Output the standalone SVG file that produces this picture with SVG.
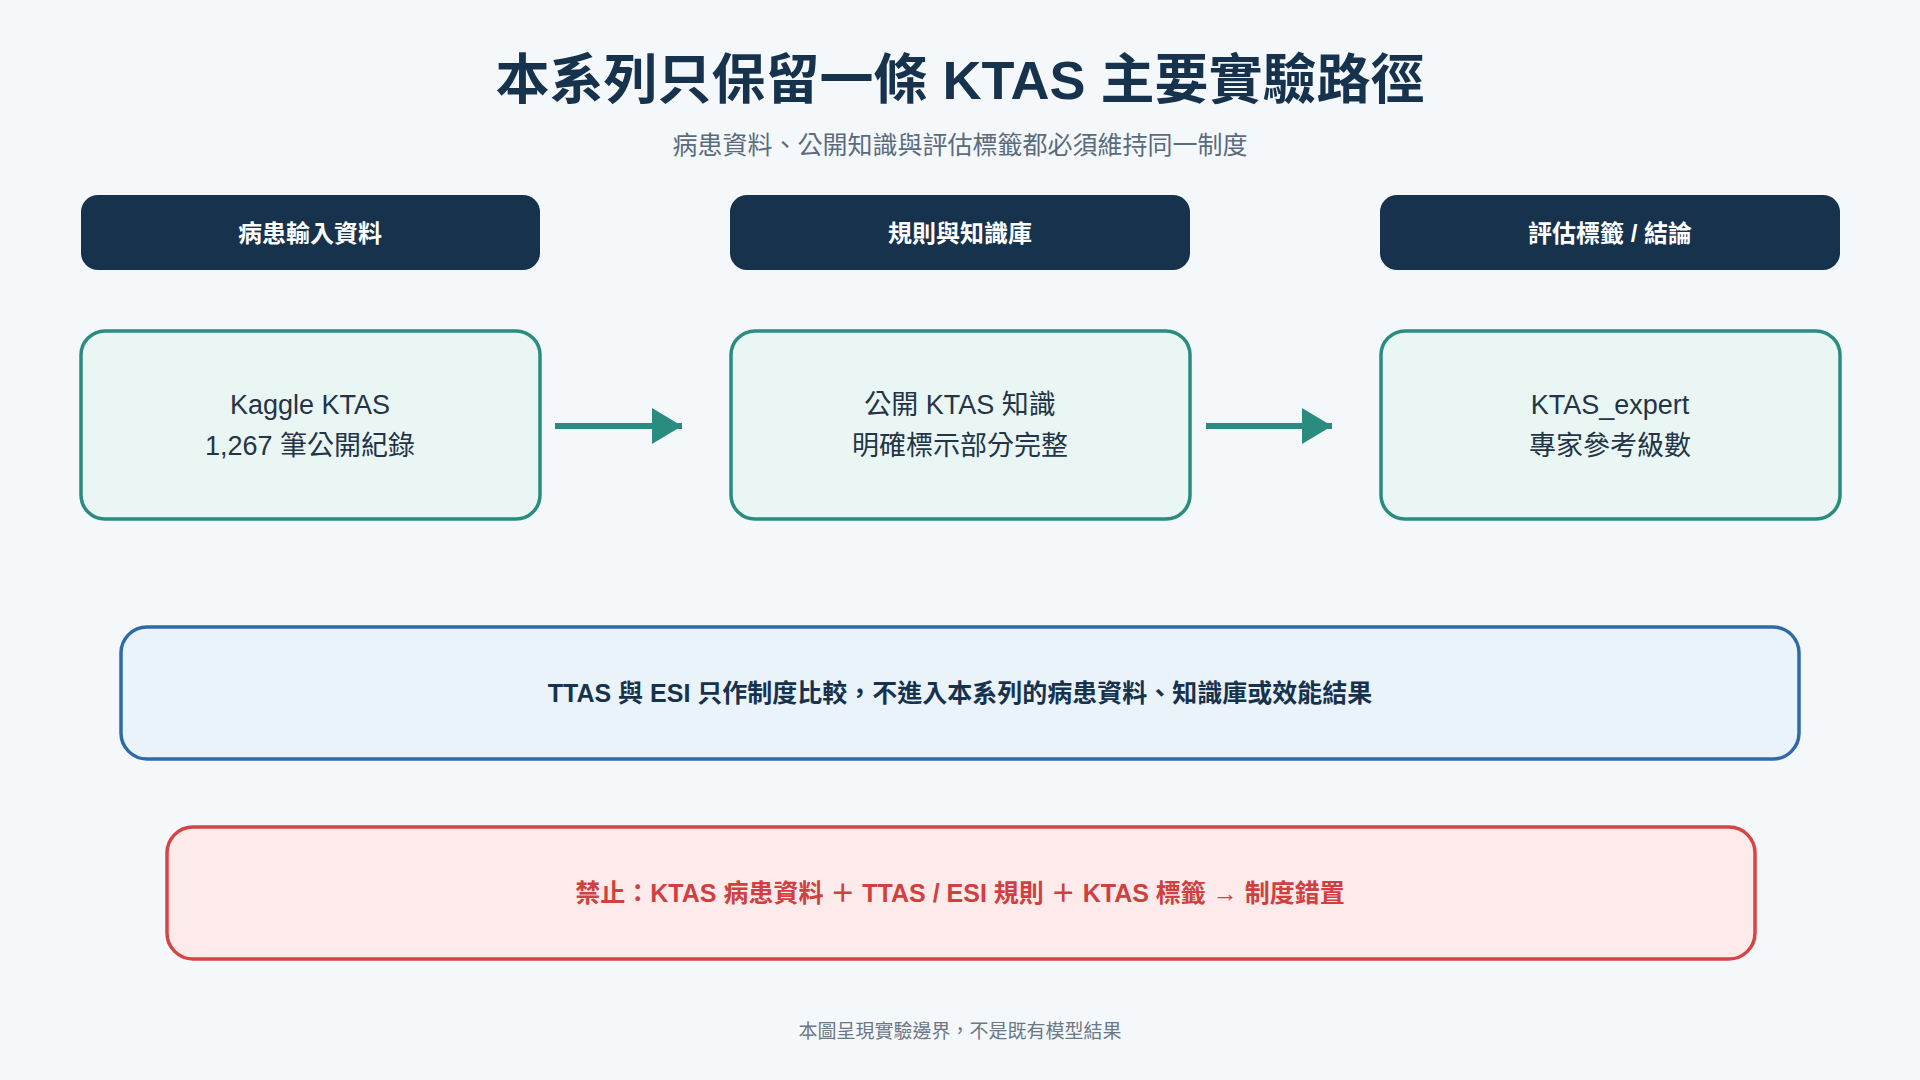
<svg xmlns="http://www.w3.org/2000/svg" width="1920" height="1080" viewBox="0 0 1920 1080">
<style>
text{font-family:"Liberation Sans","Noto Sans CJK TC",sans-serif;text-anchor:middle;dominant-baseline:central}
.hd rect{fill:#17324d}
.hd text{fill:#fff;font-size:24px;font-weight:bold}
.nd rect{fill:#eaf6f3;stroke:#2a8c7f;stroke-width:3.5}
.nd text{fill:#243447;font-size:27px}
.cn line{stroke:#2a8c7f;stroke-width:6}
</style>
<defs><marker id="ah" markerWidth="6" markerHeight="6" refX="5" refY="3" orient="auto" markerUnits="strokeWidth"><path d="M0,0L5,3L0,6Z" fill="#2a8c7f"/></marker></defs>
<rect width="1920" height="1080" fill="#f5f8fb"/>
<text x="960" y="80" font-size="54" font-weight="bold" fill="#17324d">本系列只保留一條 KTAS 主要實驗路徑</text>
<text x="960" y="145" font-size="25" fill="#5a6b7d">病患資料、公開知識與評估標籤都必須維持同一制度</text>
<g id="h1" class="hd"><rect x="81" y="195" width="459" height="75" rx="17"/><text x="310" y="233">病患輸入資料</text></g>
<g id="h2" class="hd"><rect x="730" y="195" width="460" height="75" rx="17"/><text x="960" y="233">規則與知識庫</text></g>
<g id="h3" class="hd"><rect x="1380" y="195" width="460" height="75" rx="17"/><text x="1610" y="233">評估標籤 / 結論</text></g>
<g id="n1" class="nd"><rect x="81" y="331" width="459" height="188" rx="24"/><text x="310" y="405">Kaggle KTAS</text><text x="310" y="446">1,267 筆公開紀錄</text></g>
<g id="n2" class="nd"><rect x="731" y="331" width="459" height="188" rx="24"/><text x="960" y="405">公開 KTAS 知識</text><text x="960" y="446">明確標示部分完整</text></g>
<g id="n3" class="nd"><rect x="1381" y="331" width="459" height="188" rx="24"/><text x="1610" y="405">KTAS_expert</text><text x="1610" y="446">專家參考級數</text></g>
<g id="connectors" class="cn"><line x1="555" y1="426" x2="682" y2="426" marker-end="url(#ah)"/><line x1="1206" y1="426" x2="1332" y2="426" marker-end="url(#ah)"/></g>
<g id="note1"><rect x="121" y="627" width="1678" height="132" rx="26" fill="#eaf2fa" stroke="#2f6aa8" stroke-width="3.5"/><text x="960" y="693" font-size="25" font-weight="bold" fill="#17324d">TTAS 與 ESI 只作制度比較，不進入本系列的病患資料、知識庫或效能結果</text></g>
<g id="note2"><rect x="167" y="827" width="1588" height="132" rx="26" fill="#fcebea" stroke="#d64545" stroke-width="3.5"/><text x="960" y="893" font-size="25" font-weight="bold" fill="#d04040">禁止：KTAS 病患資料 ＋ TTAS / ESI 規則 ＋ KTAS 標籤 → 制度錯置</text></g>
<text x="960" y="1031" font-size="19" fill="#6b7785">本圖呈現實驗邊界，不是既有模型結果</text>
</svg>
